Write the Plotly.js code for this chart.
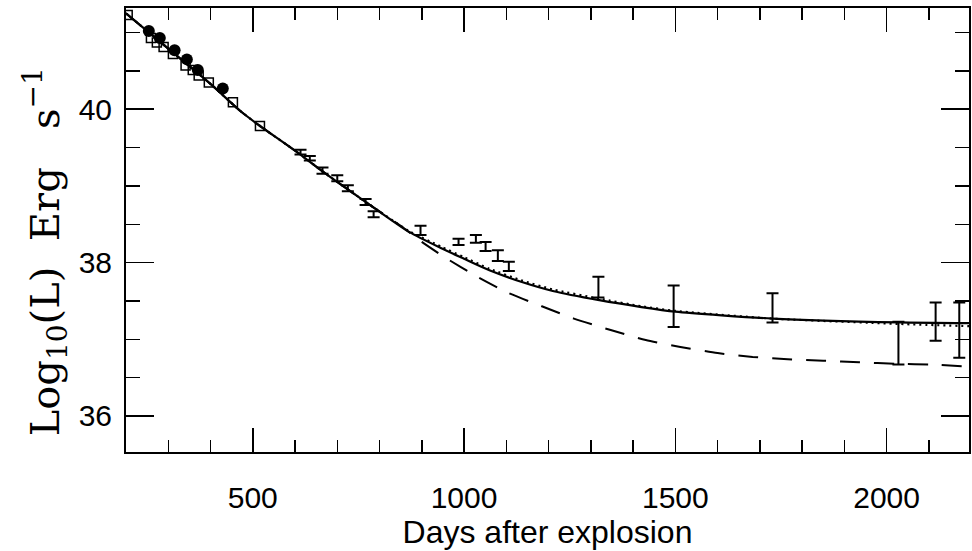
<!DOCTYPE html>
<html><head><meta charset="utf-8">
<script src="https://cdn.plot.ly/plotly-3.0.1.min.js"></script>
<style>html,body{margin:0;padding:0;background:#fff}#chart{width:972px;height:551px}</style>
</head><body><div id="chart"></div>
<script>
const circleDays = [254, 280, 315, 344, 370, 429];
const circleLum = [41.02, 40.93, 40.77, 40.65, 40.51, 40.27];
const squareDays = [204, 259, 273, 289, 311, 341, 358, 372, 396, 453, 517];
const squareLum = [41.23, 40.93, 40.87, 40.81, 40.72, 40.57, 40.51, 40.44, 40.35, 40.09, 39.78];
const errDays = [613, 635, 665, 700, 725, 767, 786, 897, 987, 1028, 1051, 1080, 1106, 1318, 1496, 1730, 2028, 2116, 2172];
const errLum = [39.44, 39.36, 39.20, 39.10, 38.97, 38.79, 38.63, 38.42, 38.27, 38.31, 38.21, 38.09, 37.95, 37.68, 37.43, 37.41, 36.95, 37.23, 37.12];
const errSize = [0.03, 0.03, 0.04, 0.04, 0.04, 0.04, 0.04, 0.06, 0.04, 0.05, 0.06, 0.07, 0.06, 0.135, 0.27, 0.19, 0.28, 0.25, 0.36];
const solidDays = [200, 300, 400, 472, 520, 600, 670, 770, 870, 945, 1000, 1060, 1135, 1210, 1320, 1420, 1500, 1730, 2030, 2200];
const solidLum = [41.25, 40.79, 40.33, 39.97, 39.77, 39.46, 39.17, 38.78, 38.40, 38.19, 38.05, 37.90, 37.75, 37.63, 37.51, 37.42, 37.36, 37.27, 37.22, 37.21];
const dottedLum = [41.25, 40.79, 40.33, 39.97, 39.77, 39.46, 39.17, 38.78, 38.41, 38.21, 38.07, 37.92, 37.77, 37.65, 37.53, 37.43, 37.37, 37.27, 37.20, 37.17];
const dashedDays = [200, 300, 400, 472, 520, 600, 670, 770, 850, 900, 957, 1030, 1103, 1184, 1260, 1347, 1430, 1512, 1600, 1683, 1766, 1850, 1935, 2022, 2110, 2200];
const dashedLum = [41.25, 40.79, 40.33, 39.97, 39.77, 39.46, 39.17, 38.78, 38.48, 38.27, 38.06, 37.82, 37.61, 37.43, 37.27, 37.12, 36.99, 36.90, 36.82, 36.77, 36.74, 36.72, 36.70, 36.68, 36.67, 36.64];
const xTitle = 'Days after explosion';
const yTitle = 'Log<sub>10</sub>(L)\u00a0\u00a0Erg\u00a0\u00a0\u00a0s<sup>\u22121</sup>';

const traces = [
  {x: dashedDays, y: dashedLum, mode: 'lines', line: {color: '#000', width: 2, dash: '20px,14px', shape: 'spline', smoothing: 0.6}, hoverinfo: 'skip'},
  {x: solidDays, y: dottedLum, mode: 'lines', line: {color: '#000', width: 2.2, dash: '2px,4px', shape: 'spline', smoothing: 0.6}, hoverinfo: 'skip'},
  {x: solidDays, y: solidLum, mode: 'lines', line: {color: '#000', width: 2.2, shape: 'spline', smoothing: 0.6}},
  {x: squareDays, y: squareLum, mode: 'markers', marker: {symbol: 'square-open', size: 9, color: '#000', line: {width: 1.5, color: '#000'}}},
  {x: circleDays, y: circleLum, mode: 'markers', marker: {symbol: 'circle', size: 12, color: '#000'}},
  {x: errDays, y: errLum, mode: 'markers', marker: {size: 1, color: 'rgba(0,0,0,0)'},
   error_y: {type: 'data', array: errSize, visible: true, color: '#000', thickness: 2, width: 6}}
];

const axisCommon = {
  showline: true, linecolor: '#000', linewidth: 2, mirror: 'ticks',
  ticks: 'inside', tickcolor: '#000', tickwidth: 1.5,
  showgrid: false, zeroline: false,
  tickfont: {family: 'Liberation Sans, Arial, sans-serif', size: 30, color: '#000'}
};

const layout = {
  width: 972, height: 551,
  margin: {l: 126, r: 3, t: 8, b: 99},
  paper_bgcolor: '#fff', plot_bgcolor: '#fff',
  showlegend: false,
  xaxis: Object.assign({}, axisCommon, {
    range: [200, 2195], tick0: 0, dtick: 500, ticklen: 24,
    minor: {dtick: 100, tick0: 0, ticklen: 12, ticks: 'inside', tickcolor: '#000', tickwidth: 1.5},
    ticklabelstandoff: 18,
    title: {text: xTitle, font: {family: 'Liberation Sans, Arial, sans-serif', size: 32, color: '#000'}, standoff: 6}
  }),
  yaxis: Object.assign({}, axisCommon, {
    range: [35.53, 41.32], tick0: 0, dtick: 2, ticklen: 28,
    minor: {dtick: 0.5, tick0: 0, ticklen: 14, ticks: 'inside', tickcolor: '#000', tickwidth: 1.5},
    ticklabelstandoff: 6
  }),
  annotations: [{
    text: yTitle, xref: 'paper', yref: 'paper', x: -0.096, y: 0.45,
    xanchor: 'center', yanchor: 'middle', textangle: -90, showarrow: false,
    font: {family: 'DejaVu Serif, Liberation Serif, serif', size: 40, color: '#000'}
  }]
};

Plotly.newPlot('chart', traces, layout, {staticPlot: true, displayModeBar: false});
</script>
</body></html>
